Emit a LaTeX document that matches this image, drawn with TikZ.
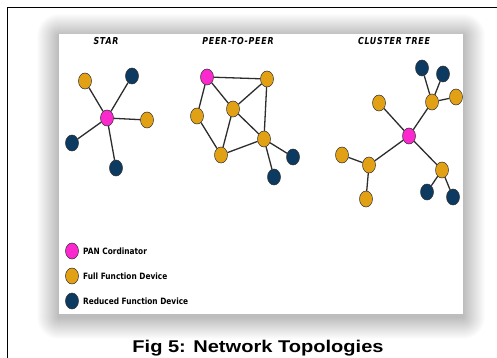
\documentclass[tikz,border=0pt]{standalone}
\usepackage{fontspec}
\setmainfont{Liberation Sans}
\newfontfamily\titlefont{DejaVu Sans}[FakeStretch=0.82,LetterSpace=8]
\newfontfamily\legendfont{DejaVu Sans}[FakeStretch=0.85]
\usetikzlibrary{shapes.geometric}

\definecolor{pancolor}{RGB}{250,40,205}
\definecolor{ffdcolor}{RGB}{226,160,20}
\definecolor{rfdcolor}{RGB}{12,58,96}
\definecolor{linkcolor}{RGB}{45,45,45}

\tikzset{
  dev/.style={ellipse, draw=black!80, line width=0.5pt, minimum width=13pt, minimum height=16pt, inner sep=0pt},
  pan/.style={dev, fill=pancolor},
  ffd/.style={dev, fill=ffdcolor},
  rfd/.style={dev, fill=rfdcolor},
  link/.style={draw=linkcolor, line width=1.3pt},
  toptitle/.style={font=\titlefont\bfseries\itshape\fontsize{9.6}{11}\selectfont, inner sep=0pt},
  legendtext/.style={font=\legendfont\bfseries\fontsize{8.7}{10}\selectfont, anchor=west, inner sep=0pt},
}

\begin{document}
\begin{tikzpicture}[x=1pt,y=-1pt]
\useasboundingbox (0,0) rectangle (497,358);
\fill[white] (0,0) rectangle (497,358);

% outer frame (top and left rules)
\draw[black, line width=1.6pt] (7.5,358) -- (7.5,7.5) -- (497,7.5);

% soft shadow around the panel
\foreach \i in {1,...,22}{
  \fill[black, opacity=0.011, rounded corners=\i pt] (59-\i,34-\i+2) rectangle (463+\i,314+\i+3);
}
% white panel
\fill[white] (59,34) rectangle (463,314);

% ---- titles
\node[toptitle] (tstar) at (106,41) {STAR};
\node[toptitle] (tp2p) at (238,41) {PEER-TO-PEER};
\node[toptitle] (ttree) at (394,41) {CLUSTER TREE};

% ---- star topology
\node[pan] (s0) at (107,118) {};
\node[ffd] (s1) at (85,81) {};
\node[rfd] (s2) at (132,76) {};
\node[ffd] (s3) at (147,120) {};
\node[rfd] (s4) at (72,143) {};
\node[rfd] (s5) at (116,168) {};
\foreach \n in {s1,s2,s3,s4,s5} \draw[link] (s0) -- (\n);

% ---- peer-to-peer topology
\node[pan] (p0) at (207,77) {};
\node[ffd] (p1) at (267,79) {};
\node[ffd] (p2) at (233,109) {};
\node[ffd] (p3) at (197,116) {};
\node[ffd] (p4) at (264,139) {};
\node[ffd] (p5) at (221,155) {};
\node[rfd] (p6) at (293,157) {};
\node[rfd] (p7) at (274,177) {};
\draw[link] (p0) -- (p1);
\draw[link] (p0) -- (p2);
\draw[link] (p0) -- (p3);
\draw[link] (p3) -- (p5);
\draw[link] (p2) -- (p5);
\draw[link] (p2) -- (p1);
\draw[link] (p2) -- (p4);
\draw[link] (p1) -- (p4);
\draw[link] (p5) -- (p4);
\draw[link] (p4) -- (p6);
\draw[link] (p4) -- (p7);

% ---- cluster tree topology
\node[pan] (c0) at (409,136) {};
\node[ffd] (c1) at (379,103) {};
\node[ffd] (c2) at (432,102) {};
\node[rfd] (c3) at (422,68) {};
\node[rfd] (c4) at (443,74) {};
\node[ffd] (c5) at (456,97) {};
\node[ffd] (c6) at (369,165) {};
\node[ffd] (c7) at (342,155) {};
\node[ffd] (c8) at (366,199) {};
\node[ffd] (c9) at (442,170) {};
\node[rfd] (c10) at (427,192) {};
\node[rfd] (c11) at (453,197) {};
\foreach \n in {c1,c2,c6,c9} \draw[link] (c0) -- (\n);
\foreach \n in {c3,c4,c5} \draw[link] (c2) -- (\n);
\foreach \n in {c7,c8} \draw[link] (c6) -- (\n);
\foreach \n in {c10,c11} \draw[link] (c9) -- (\n);

% ---- legend
\node[pan] (l1) at (72,251) {};
\node[ffd] (l2) at (72,276) {};
\node[rfd] (l3) at (72,301) {};
\node[legendtext] (t1) at (83,251) {PAN Cordinator};
\node[legendtext] (t2) at (83,276) {Full Function Device};
\node[legendtext] (t3) at (83,301) {Reduced Function Device};

% ---- caption
\node[font=\bfseries\fontsize{17}{20}\selectfont, inner sep=0pt, xscale=1.18] (cap) at (258,348) {Fig 5: Network Topologies};
\end{tikzpicture}
\end{document}
